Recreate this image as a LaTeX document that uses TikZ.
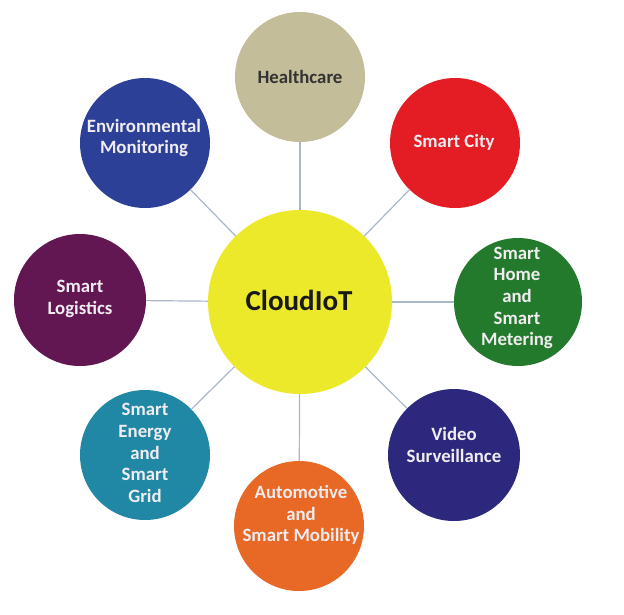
\documentclass[tikz,border=0pt]{standalone}
\usepackage{fontspec}
\setmainfont{Carlito}
\definecolor{cHealth}{RGB}{196,189,153}
\definecolor{cCity}{RGB}{228,28,36}
\definecolor{cEnv}{RGB}{44,64,152}
\definecolor{cLog}{RGB}{98,22,82}
\definecolor{cCore}{RGB}{236,232,42}
\definecolor{cHome}{RGB}{36,122,44}
\definecolor{cVideo}{RGB}{44,40,126}
\definecolor{cAuto}{RGB}{232,104,38}
\definecolor{cEnergy}{RGB}{32,136,165}
\definecolor{cLink}{RGB}{170,182,202}
\definecolor{cLight}{RGB}{240,236,240}
\begin{document}
\begin{tikzpicture}[x=1pt,y=-1pt,
  bubble/.style={circle, draw=none, minimum size=130pt, inner sep=0pt},
  lbl/.style={align=center, font=\fontsize{18.8}{21.7}\selectfont\bfseries, text=cLight},
  link/.style={draw=cLink, line width=1.2pt}]
\useasboundingbox (0,0) rectangle (624,614);
\node[circle, fill=cCore, minimum size=184pt, inner sep=0pt] (core) at (300,302) {};
\node[bubble, fill=cHealth] (health) at (300,77) {};
\node[bubble, fill=cCity] (city) at (455,143) {};
\node[bubble, fill=cHome, minimum size=128pt] (home) at (518,302) {};
\node[bubble, fill=cVideo, minimum size=132pt] (video) at (454,455) {};
\node[bubble, fill=cAuto] (auto) at (299,526) {};
\node[bubble, fill=cEnergy] (energy) at (145,455) {};
\node[bubble, fill=cLog, minimum size=132pt] (logis) at (80,300) {};
\node[bubble, fill=cEnv] (env) at (145,143) {};
\foreach \n in {health,city,home,video,auto,energy,logis,env}
  \draw[link] (core) -- (\n);
\node[font=\fontsize{29}{34}\selectfont\bfseries, text=black!90] (coret) at (299,300) {CloudIoT};
\node[lbl, text=black!80] (health-t) at (300,77) {Healthcare};
\node[lbl] (city-t) at (454,142) {Smart City};
\node[lbl] (home-t) at (517,298) {Smart\\Home\\and\\Smart\\Metering};
\node[lbl] (video-t) at (454,445) {Video\\Surveillance};
\node[lbl] (auto-t) at (301,515) {Automotive\\and\\Smart Mobility};
\node[lbl] (energy-t) at (145,453) {Smart\\Energy\\and\\Smart\\Grid};
\node[lbl] (logis-t) at (80,299) {Smart\\Logistics};
\node[lbl] (env-t) at (144,138) {Environmental\\Monitoring};
\end{tikzpicture}
\end{document}
